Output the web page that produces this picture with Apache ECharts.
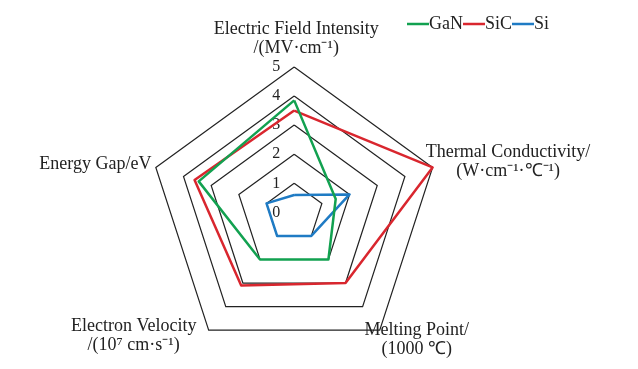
<!DOCTYPE html>
<html>
<head>
<meta charset="utf-8">
<script src="https://cdn.jsdelivr.net/npm/echarts@6/dist/echarts.min.js"></script>
<style>
html,body{margin:0;padding:0;background:#fff;}
#chart{width:638px;height:369px;}
</style>
</head>
<body>
<div id="chart"></div>
<script>
// Indicator names (counter-clockwise from top)
var indicatorNames = [
  'Electric Field Intensity\n/(MV·cm⁻¹)',
  'Energy Gap/eV',
  'Electron Velocity\n/(10⁷ cm·s⁻¹)',
  'Melting Point/\n(1000 ℃)',
  'Thermal Conductivity/\n(W·cm⁻¹·℃⁻¹)'
];
var axisMax = 5;
var seriesNames = ['GaN', 'SiC', 'Si'];
var ganValues = [3.85, 3.45, 2.0, 2.0, 1.5];
var sicValues = [3.5, 3.6, 3.1, 3.0, 5.0];
var siValues = [0.6, 1.0, 1.0, 1.0, 2.0];

var FONT = "'Liberation Serif', 'Times New Roman', serif";
// horizontal offsets via padding; vertical offsets via spacer lines
var namePads = [
  [0, 0, 1, 4],
  [0, 121, 0, 0],
  [0, 150, 0, 0],
  [0, 0, 0, 74],
  [0, 0, 0, 151]
];
// [leading spacer, trailing spacer] heights
var spacers = [[0, 0], [0, 6], [12, 0], [20, 0], [0, 11]];

var indicators = indicatorNames.map(function (n, i) {
  var rich = {
    lead: { lineHeight: spacers[i][0] || 1, fontSize: 1 },
    trail: { lineHeight: spacers[i][1] || 1, fontSize: 1 }
  };
  var ind = {
    name: n, min: 0, max: axisMax,
    nameTextStyle: { align: 'center', verticalAlign: 'middle', padding: namePads[i], rich: rich }
  };
  if (i === 0) {
    ind.axisLabel = { show: true, color: '#222', fontFamily: FONT, fontSize: 16, margin: 14 };
  }
  return ind;
});

var chart = echarts.init(document.getElementById('chart'));
chart.setOption({
  animation: false,
  backgroundColor: '#fff',
  legend: {
    data: seriesNames,
    left: 402, top: 10,
    itemGap: 0,
    itemWidth: 22, itemHeight: 2.5,
    icon: 'rect',
    textStyle: { fontFamily: FONT, fontSize: 18, color: '#222', padding: [0, 0, 0, -5] }
  },
  radar: {
    center: [294.2, 212.4],
    radius: 145.5,
    splitNumber: 5,
    shape: 'polygon',
    startAngle: 90,
    axisNameGap: 0,
    axisName: {
      color: '#222', fontFamily: FONT, fontSize: 18, lineHeight: 19,
      formatter: function (name) {
        var i = indicatorNames.indexOf(name);
        var s = (i >= 0) ? spacers[i] : [0, 0];
        var out = name;
        if (s[0]) out = '{lead| }\n' + out;
        if (s[1]) out = out + '\n{trail| }';
        return out;
      }
    },
    axisLine: { show: false },
    axisTick: { show: false },
    axisLabel: { show: false },
    splitArea: { show: false },
    splitLine: { lineStyle: { color: '#222', width: 1.2 } },
    indicator: indicators
  },
  series: [{
    type: 'radar',
    symbol: 'none',
    data: [
      { name: 'Si', value: siValues, lineStyle: { color: '#1f7bc4', width: 2.5 }, itemStyle: { color: '#1f7bc4' } },
      { name: 'SiC', value: sicValues, lineStyle: { color: '#d9262e', width: 2.5 }, itemStyle: { color: '#d9262e' } },
      { name: 'GaN', value: ganValues, lineStyle: { color: '#12a150', width: 2.5 }, itemStyle: { color: '#12a150' } }
    ]
  }]
});
</script>
</body>
</html>
